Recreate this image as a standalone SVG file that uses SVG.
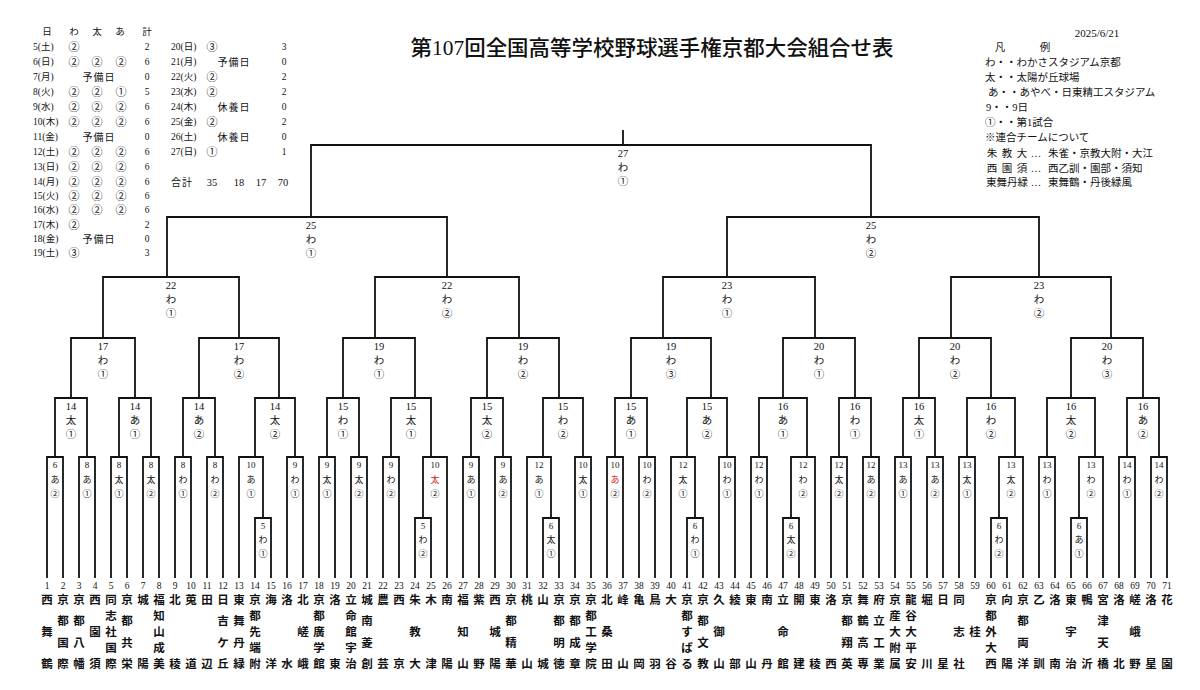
<svg xmlns="http://www.w3.org/2000/svg" width="1200" height="690" viewBox="0 0 1200 690">
<style>
.ln{fill:none;stroke:#111;stroke-width:1.8}
text{font-family:"Liberation Serif","Noto Sans CJK JP",serif;fill:#111;dominant-baseline:central}
.c{text-anchor:middle}
.s text{font-size:9px;text-anchor:middle}
.m text{font-size:10.5px;text-anchor:middle}
.nm text{font-size:11.5px;font-weight:bold;text-anchor:middle;font-family:"Noto Sans CJK JP",sans-serif}
.nm text.no{font-size:9.5px;font-weight:normal;font-family:"Liberation Serif",serif}
.tb text{font-size:9.5px}
.tb text.ci{font-size:11px;text-anchor:middle}
.tb text.k{font-size:10px;text-anchor:middle;letter-spacing:1px}
.lg text{font-size:10.5px}
.red{fill:#d42020}
</style>
<rect width="1200" height="690" fill="#fff"/>

<g id="header">
<text x="652" y="48" class="c" style="font-size:21px;font-weight:500" textLength="483" lengthAdjust="spacingAndGlyphs">第107回全国高等学校野球選手権京都大会組合せ表</text>
<text x="1097" y="33" class="c" style="font-size:11px">2025/6/21</text>
</g>

<g id="schedule" class="tb">
<text class="c" x="47" y="32">日</text><text class="c" x="74" y="32">わ</text><text class="c" x="97" y="32">太</text><text class="c" x="120" y="32">あ</text><text class="c" x="147" y="32">計</text>
<text x="33" y="47">5(土)</text><text class="ci" x="74" y="47">②</text><text class="c" x="147" y="47">2</text>
<text x="33" y="62">6(日)</text><text class="ci" x="74" y="62">②</text><text class="ci" x="97" y="62">②</text><text class="ci" x="121" y="62">②</text><text class="c" x="147" y="62">6</text>
<text x="33" y="77">7(月)</text><text class="k" x="99" y="77">予備日</text><text class="c" x="147" y="77">0</text>
<text x="33" y="92">8(火)</text><text class="ci" x="74" y="92">②</text><text class="ci" x="97" y="92">②</text><text class="ci" x="121" y="92">①</text><text class="c" x="147" y="92">5</text>
<text x="33" y="107">9(水)</text><text class="ci" x="74" y="107">②</text><text class="ci" x="97" y="107">②</text><text class="ci" x="121" y="107">②</text><text class="c" x="147" y="107">6</text>
<text x="33" y="122">10(木)</text><text class="ci" x="74" y="122">②</text><text class="ci" x="97" y="122">②</text><text class="ci" x="121" y="122">②</text><text class="c" x="147" y="122">6</text>
<text x="33" y="137">11(金)</text><text class="k" x="99" y="137">予備日</text><text class="c" x="147" y="137">0</text>
<text x="33" y="152">12(土)</text><text class="ci" x="74" y="152">②</text><text class="ci" x="97" y="152">②</text><text class="ci" x="121" y="152">②</text><text class="c" x="147" y="152">6</text>
<text x="33" y="167">13(日)</text><text class="ci" x="74" y="167">②</text><text class="ci" x="97" y="167">②</text><text class="ci" x="121" y="167">②</text><text class="c" x="147" y="167">6</text>
<text x="33" y="182">14(月)</text><text class="ci" x="74" y="182">②</text><text class="ci" x="97" y="182">②</text><text class="ci" x="121" y="182">②</text><text class="c" x="147" y="182">6</text>
<text x="33" y="196">15(火)</text><text class="ci" x="74" y="196">②</text><text class="ci" x="97" y="196">②</text><text class="ci" x="121" y="196">②</text><text class="c" x="147" y="196">6</text>
<text x="33" y="210">16(水)</text><text class="ci" x="74" y="210">②</text><text class="ci" x="97" y="210">②</text><text class="ci" x="121" y="210">②</text><text class="c" x="147" y="210">6</text>
<text x="33" y="225">17(木)</text><text class="ci" x="74" y="225">②</text><text class="c" x="147" y="225">2</text>
<text x="33" y="239">18(金)</text><text class="k" x="99" y="239">予備日</text><text class="c" x="147" y="239">0</text>
<text x="33" y="253">19(土)</text><text class="ci" x="74" y="253">③</text><text class="c" x="147" y="253">3</text>
<text x="171" y="47">20(日)</text><text class="ci" x="212" y="47">③</text><text class="c" x="284" y="47">3</text>
<text x="171" y="62">21(月)</text><text class="k" x="234" y="62">予備日</text><text class="c" x="284" y="62">0</text>
<text x="171" y="77">22(火)</text><text class="ci" x="212" y="77">②</text><text class="c" x="284" y="77">2</text>
<text x="171" y="92">23(水)</text><text class="ci" x="212" y="92">②</text><text class="c" x="284" y="92">2</text>
<text x="171" y="107">24(木)</text><text class="k" x="234" y="107">休養日</text><text class="c" x="284" y="107">0</text>
<text x="171" y="122">25(金)</text><text class="ci" x="212" y="122">②</text><text class="c" x="284" y="122">2</text>
<text x="171" y="137">26(土)</text><text class="k" x="234" y="137">休養日</text><text class="c" x="284" y="137">0</text>
<text x="171" y="152">27(日)</text><text class="ci" x="212" y="152">①</text><text class="c" x="284" y="152">1</text>
<text class="k" x="182" y="182">合計</text><text class="c" x="212" y="182" style="font-size:10.5px">35</text><text class="c" x="239" y="182" style="font-size:10.5px">18</text><text class="c" x="261" y="182" style="font-size:10.5px">17</text><text class="c" x="283" y="182" style="font-size:10.5px">70</text>
</g>

<g id="legend" class="lg">
<text x="1000" y="47" class="c">凡</text><text x="1045" y="47" class="c">例</text>
<text x="985" y="62">わ・・わかさスタジアム京都</text>
<text x="985" y="77">太・・太陽が丘球場</text>
<text x="988" y="92">あ・・あやべ・日東精工スタジアム</text>
<text x="986" y="107">9・・9日</text>
<text x="985" y="122">①・・第1試合</text>
<text x="985" y="137">※連合チームについて</text>
<text x="992" y="153" class="c">朱</text><text x="1007" y="153" class="c">教</text><text x="1022" y="153" class="c">大</text><text x="1036" y="153" class="c">…</text><text x="1048" y="153">朱雀・京教大附・大江</text>
<text x="992" y="168" class="c">西</text><text x="1007" y="168" class="c">園</text><text x="1022" y="168" class="c">須</text><text x="1036" y="168" class="c">…</text><text x="1048" y="168">西乙訓・園部・須知</text>
<text x="986" y="182" textLength="42" lengthAdjust="spacingAndGlyphs">東舞丹緑</text><text x="1036" y="182" class="c">…</text><text x="1048" y="182">東舞鶴・丹後緑風</text>
</g>

<g id="connectors">
<path class="ln" d="M255 578V518H271V578M415 578V518H431V578M543 578V518H559V578M687 578V518H703V578M783 578V518H799V578M991 578V518H1007V578M1071 578V518H1087V578"/>
<path class="ln" d="M47 578V457H63V578M79 578V457H95V578M111 578V457H127V578M143 578V457H159V578M175 578V457H191V578M207 578V457H223V578M239 578V457H263V518M287 578V457H303V578M319 578V457H335V578M351 578V457H367V578M383 578V457H399V578M423 518V457H447V578M463 578V457H479V578M495 578V457H511V578M527 578V457H551V518M575 578V457H591V578"/>
<path class="ln" d="M607 578V457H623V578M639 578V457H655V578M671 578V457H695V518M719 578V457H735V578M751 578V457H767V578M791 518V457H815V578M831 578V457H847V578M863 578V457H879V578M895 578V457H911V578M927 578V457H943V578M959 578V457H975V578M999 518V457H1023V578M1039 578V457H1055V578M1079 518V457H1103V578M1119 578V457H1135V578M1151 578V457H1167V578"/>
<path class="ln" d="M55 457V398H87V457M119 457V398H151V457M183 457V398H215V457M255 457V398H295V457M327 457V398H359V457M391 457V398H431V457M471 457V398H503V457M543 457V398H583V457M615 457V398H647V457M687 457V398H727V457M759 457V398H807V457M839 457V398H871V457M903 457V398H935V457M967 457V398H1015V457M1047 457V398H1095V457M1127 457V398H1159V457"/>
<path class="ln" d="M71 398V338H135V398M199 398V338H279V398M343 398V338H415V398M487 398V338H559V398M631 398V338H711V398M783 398V338H855V398M919 398V338H991V398M1071 398V338H1143V398"/>
<path class="ln" d="M103 338V277H239V338M375 338V277H519V338M663 338V277H815V338M951 338V277H1111V338"/>
<path class="ln" d="M167 277V217H447V277M727 277V217H1039V277"/>
<path class="ln" d="M311 217V145H871V217M623 145V130"/>
</g>

<g id="prelim">
<g id="p1" class="s" transform="translate(263,518)"><text y="8">5</text><text y="22">わ</text><text y="36">①</text></g>
<g id="p2" class="s" transform="translate(423,518)"><text y="8">5</text><text y="22">わ</text><text y="36">②</text></g>
<g id="p3" class="s" transform="translate(551,518)"><text y="8">6</text><text y="22">太</text><text y="36">①</text></g>
<g id="p4" class="s" transform="translate(695,518)"><text y="8">6</text><text y="22">わ</text><text y="36">①</text></g>
<g id="p5" class="s" transform="translate(791,518)"><text y="8">6</text><text y="22">太</text><text y="36">②</text></g>
<g id="p6" class="s" transform="translate(999,518)"><text y="8">6</text><text y="22">わ</text><text y="36">②</text></g>
<g id="p7" class="s" transform="translate(1079,518)"><text y="8">6</text><text y="22">あ</text><text y="36">①</text></g>
</g>

<g id="round1">
<g id="r1-01" class="s" transform="translate(55,457)"><text y="8">6</text><text y="23">あ</text><text y="37">②</text></g>
<g id="r1-02" class="s" transform="translate(87,457)"><text y="8">8</text><text y="23">あ</text><text y="37">①</text></g>
<g id="r1-03" class="s" transform="translate(119,457)"><text y="8">8</text><text y="23">太</text><text y="37">①</text></g>
<g id="r1-04" class="s" transform="translate(151,457)"><text y="8">8</text><text y="23">太</text><text y="37">②</text></g>
<g id="r1-05" class="s" transform="translate(183,457)"><text y="8">8</text><text y="23">わ</text><text y="37">①</text></g>
<g id="r1-06" class="s" transform="translate(215,457)"><text y="8">8</text><text y="23">わ</text><text y="37">②</text></g>
<g id="r1-07" class="s" transform="translate(251,457)"><text y="8">10</text><text y="23">あ</text><text y="37">①</text></g>
<g id="r1-08" class="s" transform="translate(295,457)"><text y="8">9</text><text y="23">わ</text><text y="37">①</text></g>
<g id="r1-09" class="s" transform="translate(327,457)"><text y="8">9</text><text y="23">太</text><text y="37">①</text></g>
<g id="r1-10" class="s" transform="translate(359,457)"><text y="8">9</text><text y="23">太</text><text y="37">②</text></g>
<g id="r1-11" class="s" transform="translate(391,457)"><text y="8">9</text><text y="23">わ</text><text y="37">②</text></g>
<g id="r1-12" class="s" transform="translate(435,457)"><text y="8">10</text><text y="23" class="red">太</text><text y="37">②</text></g>
<g id="r1-13" class="s" transform="translate(471,457)"><text y="8">9</text><text y="23">あ</text><text y="37">①</text></g>
<g id="r1-14" class="s" transform="translate(503,457)"><text y="8">9</text><text y="23">あ</text><text y="37">②</text></g>
<g id="r1-15" class="s" transform="translate(539,457)"><text y="8">12</text><text y="23">あ</text><text y="37">①</text></g>
<g id="r1-16" class="s" transform="translate(583,457)"><text y="8">10</text><text y="23">太</text><text y="37">①</text></g>
<g id="r1-17" class="s" transform="translate(615,457)"><text y="8">10</text><text y="23" class="red">あ</text><text y="37">②</text></g>
<g id="r1-18" class="s" transform="translate(647,457)"><text y="8">10</text><text y="23">わ</text><text y="37">②</text></g>
<g id="r1-19" class="s" transform="translate(683,457)"><text y="8">12</text><text y="23">太</text><text y="37">①</text></g>
<g id="r1-20" class="s" transform="translate(727,457)"><text y="8">10</text><text y="23">わ</text><text y="37">①</text></g>
<g id="r1-21" class="s" transform="translate(759,457)"><text y="8">12</text><text y="23">わ</text><text y="37">①</text></g>
<g id="r1-22" class="s" transform="translate(803,457)"><text y="8">12</text><text y="23">わ</text><text y="37">②</text></g>
<g id="r1-23" class="s" transform="translate(839,457)"><text y="8">12</text><text y="23">太</text><text y="37">②</text></g>
<g id="r1-24" class="s" transform="translate(871,457)"><text y="8">12</text><text y="23">あ</text><text y="37">②</text></g>
<g id="r1-25" class="s" transform="translate(903,457)"><text y="8">13</text><text y="23">あ</text><text y="37">①</text></g>
<g id="r1-26" class="s" transform="translate(935,457)"><text y="8">13</text><text y="23">あ</text><text y="37">②</text></g>
<g id="r1-27" class="s" transform="translate(967,457)"><text y="8">13</text><text y="23">太</text><text y="37">①</text></g>
<g id="r1-28" class="s" transform="translate(1011,457)"><text y="8">13</text><text y="23">太</text><text y="37">②</text></g>
<g id="r1-29" class="s" transform="translate(1047,457)"><text y="8">13</text><text y="23">わ</text><text y="37">①</text></g>
<g id="r1-30" class="s" transform="translate(1091,457)"><text y="8">13</text><text y="23">わ</text><text y="37">②</text></g>
<g id="r1-31" class="s" transform="translate(1127,457)"><text y="8">14</text><text y="23">わ</text><text y="37">①</text></g>
<g id="r1-32" class="s" transform="translate(1159,457)"><text y="8">14</text><text y="23">わ</text><text y="37">②</text></g>
</g>

<g id="round2">
<g id="r2-01" class="m" transform="translate(71,398)"><text y="8">14</text><text y="22">太</text><text y="36">①</text></g>
<g id="r2-02" class="m" transform="translate(135,398)"><text y="8">14</text><text y="22">あ</text><text y="36">①</text></g>
<g id="r2-03" class="m" transform="translate(199,398)"><text y="8">14</text><text y="22">あ</text><text y="36">②</text></g>
<g id="r2-04" class="m" transform="translate(275,398)"><text y="8">14</text><text y="22">太</text><text y="36">②</text></g>
<g id="r2-05" class="m" transform="translate(343,398)"><text y="8">15</text><text y="22">わ</text><text y="36">①</text></g>
<g id="r2-06" class="m" transform="translate(411,398)"><text y="8">15</text><text y="22">太</text><text y="36">①</text></g>
<g id="r2-07" class="m" transform="translate(487,398)"><text y="8">15</text><text y="22">太</text><text y="36">②</text></g>
<g id="r2-08" class="m" transform="translate(563,398)"><text y="8">15</text><text y="22">わ</text><text y="36">②</text></g>
<g id="r2-09" class="m" transform="translate(631,398)"><text y="8">15</text><text y="22">あ</text><text y="36">①</text></g>
<g id="r2-10" class="m" transform="translate(707,398)"><text y="8">15</text><text y="22">あ</text><text y="36">②</text></g>
<g id="r2-11" class="m" transform="translate(783,398)"><text y="8">16</text><text y="22">あ</text><text y="36">①</text></g>
<g id="r2-12" class="m" transform="translate(855,398)"><text y="8">16</text><text y="22">わ</text><text y="36">①</text></g>
<g id="r2-13" class="m" transform="translate(919,398)"><text y="8">16</text><text y="22">太</text><text y="36">①</text></g>
<g id="r2-14" class="m" transform="translate(991,398)"><text y="8">16</text><text y="22">わ</text><text y="36">②</text></g>
<g id="r2-15" class="m" transform="translate(1071,398)"><text y="8">16</text><text y="22">太</text><text y="36">②</text></g>
<g id="r2-16" class="m" transform="translate(1143,398)"><text y="8">16</text><text y="22">あ</text><text y="36">②</text></g>
</g>

<g id="round3">
<g id="r3-1" class="m" transform="translate(103,338)"><text y="8">17</text><text y="22">わ</text><text y="36">①</text></g>
<g id="r3-2" class="m" transform="translate(239,338)"><text y="8">17</text><text y="22">わ</text><text y="36">②</text></g>
<g id="r3-3" class="m" transform="translate(379,338)"><text y="8">19</text><text y="22">わ</text><text y="36">①</text></g>
<g id="r3-4" class="m" transform="translate(523,338)"><text y="8">19</text><text y="22">わ</text><text y="36">②</text></g>
<g id="r3-5" class="m" transform="translate(671,338)"><text y="8">19</text><text y="22">わ</text><text y="36">③</text></g>
<g id="r3-6" class="m" transform="translate(819,338)"><text y="8">20</text><text y="22">わ</text><text y="36">①</text></g>
<g id="r3-7" class="m" transform="translate(955,338)"><text y="8">20</text><text y="22">わ</text><text y="36">②</text></g>
<g id="r3-8" class="m" transform="translate(1107,338)"><text y="8">20</text><text y="22">わ</text><text y="36">③</text></g>
</g>

<g id="round4">
<g id="qf1" class="m" transform="translate(171,277)"><text y="8">22</text><text y="22">わ</text><text y="36">①</text></g>
<g id="qf2" class="m" transform="translate(447,277)"><text y="8">22</text><text y="22">わ</text><text y="36">②</text></g>
<g id="qf3" class="m" transform="translate(727,277)"><text y="8">23</text><text y="22">わ</text><text y="36">①</text></g>
<g id="qf4" class="m" transform="translate(1039,277)"><text y="8">23</text><text y="22">わ</text><text y="36">②</text></g>
</g>

<g id="semis">
<g id="sf1" class="m" transform="translate(311,217)"><text y="8">25</text><text y="22">わ</text><text y="36">①</text></g>
<g id="sf2" class="m" transform="translate(871,217)"><text y="8">25</text><text y="22">わ</text><text y="36">②</text></g>
</g>

<g id="final" class="m" transform="translate(623,145)"><text y="8">27</text><text y="22">わ</text><text y="36">①</text></g>

<g id="teams">
<g id="t01" class="nm" transform="translate(47,0)"><text class="no" y="586">1</text><text y="599">西</text><text y="631">舞</text><text y="663">鶴</text></g>
<g id="t02" class="nm" transform="translate(63,0)"><text class="no" y="586">2</text><text y="599">京</text><text y="620">都</text><text y="642">国</text><text y="663">際</text></g>
<g id="t03" class="nm" transform="translate(79,0)"><text class="no" y="586">3</text><text y="599">京</text><text y="620">都</text><text y="642">八</text><text y="663">幡</text></g>
<g id="t04" class="nm" transform="translate(95,0)"><text class="no" y="586">4</text><text y="599">西</text><text y="631">園</text><text y="663">須</text></g>
<g id="t05" class="nm" transform="translate(111,0)"><text class="no" y="586">5</text><text y="599">同</text><text y="615">志</text><text y="631">社</text><text y="647">国</text><text y="663">際</text></g>
<g id="t06" class="nm" transform="translate(127,0)"><text class="no" y="586">6</text><text y="599">京</text><text y="620">都</text><text y="642">共</text><text y="663">栄</text></g>
<g id="t07" class="nm" transform="translate(143,0)"><text class="no" y="586">7</text><text y="599">城</text><text y="663">陽</text></g>
<g id="t08" class="nm" transform="translate(159,0)"><text class="no" y="586">8</text><text y="599">福</text><text y="615">知</text><text y="631">山</text><text y="647">成</text><text y="663">美</text></g>
<g id="t09" class="nm" transform="translate(175,0)"><text class="no" y="586">9</text><text y="599">北</text><text y="663">稜</text></g>
<g id="t10" class="nm" transform="translate(191,0)"><text class="no" y="586">10</text><text y="599">莵</text><text y="663">道</text></g>
<g id="t11" class="nm" transform="translate(207,0)"><text class="no" y="586">11</text><text y="599">田</text><text y="663">辺</text></g>
<g id="t12" class="nm" transform="translate(223,0)"><text class="no" y="586">12</text><text y="599">日</text><text y="620">吉</text><text y="642">ケ</text><text y="663">丘</text></g>
<g id="t13" class="nm" transform="translate(239,0)"><text class="no" y="586">13</text><text y="599">東</text><text y="620">舞</text><text y="642">丹</text><text y="663">緑</text></g>
<g id="t14" class="nm" transform="translate(255,0)"><text class="no" y="586">14</text><text y="599">京</text><text y="615">都</text><text y="631">先</text><text y="647">端</text><text y="663">附</text></g>
<g id="t15" class="nm" transform="translate(271,0)"><text class="no" y="586">15</text><text y="599">海</text><text y="663">洋</text></g>
<g id="t16" class="nm" transform="translate(287,0)"><text class="no" y="586">16</text><text y="599">洛</text><text y="663">水</text></g>
<g id="t17" class="nm" transform="translate(303,0)"><text class="no" y="586">17</text><text y="599">北</text><text y="631">嵯</text><text y="663">峨</text></g>
<g id="t18" class="nm" transform="translate(319,0)"><text class="no" y="586">18</text><text y="599">京</text><text y="615">都</text><text y="631">廣</text><text y="647">学</text><text y="663">館</text></g>
<g id="t19" class="nm" transform="translate(335,0)"><text class="no" y="586">19</text><text y="599">洛</text><text y="663">東</text></g>
<g id="t20" class="nm" transform="translate(351,0)"><text class="no" y="586">20</text><text y="599">立</text><text y="615">命</text><text y="631">館</text><text y="647">宇</text><text y="663">治</text></g>
<g id="t21" class="nm" transform="translate(367,0)"><text class="no" y="586">21</text><text y="599">城</text><text y="620">南</text><text y="642">菱</text><text y="663">創</text></g>
<g id="t22" class="nm" transform="translate(383,0)"><text class="no" y="586">22</text><text y="599">農</text><text y="663">芸</text></g>
<g id="t23" class="nm" transform="translate(399,0)"><text class="no" y="586">23</text><text y="599">西</text><text y="663">京</text></g>
<g id="t24" class="nm" transform="translate(415,0)"><text class="no" y="586">24</text><text y="599">朱</text><text y="631">教</text><text y="663">大</text></g>
<g id="t25" class="nm" transform="translate(431,0)"><text class="no" y="586">25</text><text y="599">木</text><text y="663">津</text></g>
<g id="t26" class="nm" transform="translate(447,0)"><text class="no" y="586">26</text><text y="599">南</text><text y="663">陽</text></g>
<g id="t27" class="nm" transform="translate(463,0)"><text class="no" y="586">27</text><text y="599">福</text><text y="631">知</text><text y="663">山</text></g>
<g id="t28" class="nm" transform="translate(479,0)"><text class="no" y="586">28</text><text y="599">紫</text><text y="663">野</text></g>
<g id="t29" class="nm" transform="translate(495,0)"><text class="no" y="586">29</text><text y="599">西</text><text y="631">城</text><text y="663">陽</text></g>
<g id="t30" class="nm" transform="translate(511,0)"><text class="no" y="586">30</text><text y="599">京</text><text y="620">都</text><text y="642">精</text><text y="663">華</text></g>
<g id="t31" class="nm" transform="translate(527,0)"><text class="no" y="586">31</text><text y="599">桃</text><text y="663">山</text></g>
<g id="t32" class="nm" transform="translate(543,0)"><text class="no" y="586">32</text><text y="599">山</text><text y="663">城</text></g>
<g id="t33" class="nm" transform="translate(559,0)"><text class="no" y="586">33</text><text y="599">京</text><text y="620">都</text><text y="642">明</text><text y="663">徳</text></g>
<g id="t34" class="nm" transform="translate(575,0)"><text class="no" y="586">34</text><text y="599">京</text><text y="620">都</text><text y="642">成</text><text y="663">章</text></g>
<g id="t35" class="nm" transform="translate(591,0)"><text class="no" y="586">35</text><text y="599">京</text><text y="615">都</text><text y="631">工</text><text y="647">学</text><text y="663">院</text></g>
<g id="t36" class="nm" transform="translate(607,0)"><text class="no" y="586">36</text><text y="599">北</text><text y="631">桑</text><text y="663">田</text></g>
<g id="t37" class="nm" transform="translate(623,0)"><text class="no" y="586">37</text><text y="599">峰</text><text y="663">山</text></g>
<g id="t38" class="nm" transform="translate(639,0)"><text class="no" y="586">38</text><text y="599">亀</text><text y="663">岡</text></g>
<g id="t39" class="nm" transform="translate(655,0)"><text class="no" y="586">39</text><text y="599">鳥</text><text y="663">羽</text></g>
<g id="t40" class="nm" transform="translate(671,0)"><text class="no" y="586">40</text><text y="599">大</text><text y="663">谷</text></g>
<g id="t41" class="nm" transform="translate(687,0)"><text class="no" y="586">41</text><text y="599">京</text><text y="615">都</text><text y="631">す</text><text y="647">ば</text><text y="663">る</text></g>
<g id="t42" class="nm" transform="translate(703,0)"><text class="no" y="586">42</text><text y="599">京</text><text y="620">都</text><text y="642">文</text><text y="663">教</text></g>
<g id="t43" class="nm" transform="translate(719,0)"><text class="no" y="586">43</text><text y="599">久</text><text y="631">御</text><text y="663">山</text></g>
<g id="t44" class="nm" transform="translate(735,0)"><text class="no" y="586">44</text><text y="599">綾</text><text y="663">部</text></g>
<g id="t45" class="nm" transform="translate(751,0)"><text class="no" y="586">45</text><text y="599">東</text><text y="663">山</text></g>
<g id="t46" class="nm" transform="translate(767,0)"><text class="no" y="586">46</text><text y="599">南</text><text y="663">丹</text></g>
<g id="t47" class="nm" transform="translate(783,0)"><text class="no" y="586">47</text><text y="599">立</text><text y="631">命</text><text y="663">館</text></g>
<g id="t48" class="nm" transform="translate(799,0)"><text class="no" y="586">48</text><text y="599">開</text><text y="663">建</text></g>
<g id="t49" class="nm" transform="translate(815,0)"><text class="no" y="586">49</text><text y="599">東</text><text y="663">稜</text></g>
<g id="t50" class="nm" transform="translate(831,0)"><text class="no" y="586">50</text><text y="599">洛</text><text y="663">西</text></g>
<g id="t51" class="nm" transform="translate(847,0)"><text class="no" y="586">51</text><text y="599">京</text><text y="620">都</text><text y="642">翔</text><text y="663">英</text></g>
<g id="t52" class="nm" transform="translate(863,0)"><text class="no" y="586">52</text><text y="599">舞</text><text y="620">鶴</text><text y="642">高</text><text y="663">専</text></g>
<g id="t53" class="nm" transform="translate(879,0)"><text class="no" y="586">53</text><text y="599">府</text><text y="620">立</text><text y="642">工</text><text y="663">業</text></g>
<g id="t54" class="nm" transform="translate(895,0)"><text class="no" y="586">54</text><text y="599">京</text><text y="615">産</text><text y="631">大</text><text y="647">附</text><text y="663">属</text></g>
<g id="t55" class="nm" transform="translate(911,0)"><text class="no" y="586">55</text><text y="599">龍</text><text y="615">谷</text><text y="631">大</text><text y="647">平</text><text y="663">安</text></g>
<g id="t56" class="nm" transform="translate(927,0)"><text class="no" y="586">56</text><text y="599">堀</text><text y="663">川</text></g>
<g id="t57" class="nm" transform="translate(943,0)"><text class="no" y="586">57</text><text y="599">日</text><text y="663">星</text></g>
<g id="t58" class="nm" transform="translate(959,0)"><text class="no" y="586">58</text><text y="599">同</text><text y="631">志</text><text y="663">社</text></g>
<g id="t59" class="nm" transform="translate(975,0)"><text class="no" y="586">59</text><text y="631">桂</text></g>
<g id="t60" class="nm" transform="translate(991,0)"><text class="no" y="586">60</text><text y="599">京</text><text y="615">都</text><text y="631">外</text><text y="647">大</text><text y="663">西</text></g>
<g id="t61" class="nm" transform="translate(1007,0)"><text class="no" y="586">61</text><text y="599">向</text><text y="663">陽</text></g>
<g id="t62" class="nm" transform="translate(1023,0)"><text class="no" y="586">62</text><text y="599">京</text><text y="620">都</text><text y="642">両</text><text y="663">洋</text></g>
<g id="t63" class="nm" transform="translate(1039,0)"><text class="no" y="586">63</text><text y="599">乙</text><text y="663">訓</text></g>
<g id="t64" class="nm" transform="translate(1055,0)"><text class="no" y="586">64</text><text y="599">洛</text><text y="663">南</text></g>
<g id="t65" class="nm" transform="translate(1071,0)"><text class="no" y="586">65</text><text y="599">東</text><text y="631">宇</text><text y="663">治</text></g>
<g id="t66" class="nm" transform="translate(1087,0)"><text class="no" y="586">66</text><text y="599">鴨</text><text y="663">沂</text></g>
<g id="t67" class="nm" transform="translate(1103,0)"><text class="no" y="586">67</text><text y="599">宮</text><text y="620">津</text><text y="642">天</text><text y="663">橋</text></g>
<g id="t68" class="nm" transform="translate(1119,0)"><text class="no" y="586">68</text><text y="599">洛</text><text y="663">北</text></g>
<g id="t69" class="nm" transform="translate(1135,0)"><text class="no" y="586">69</text><text y="599">嵯</text><text y="631">峨</text><text y="663">野</text></g>
<g id="t70" class="nm" transform="translate(1151,0)"><text class="no" y="586">70</text><text y="599">洛</text><text y="663">星</text></g>
<g id="t71" class="nm" transform="translate(1167,0)"><text class="no" y="586">71</text><text y="599">花</text><text y="663">園</text></g>
</g>
</svg>
